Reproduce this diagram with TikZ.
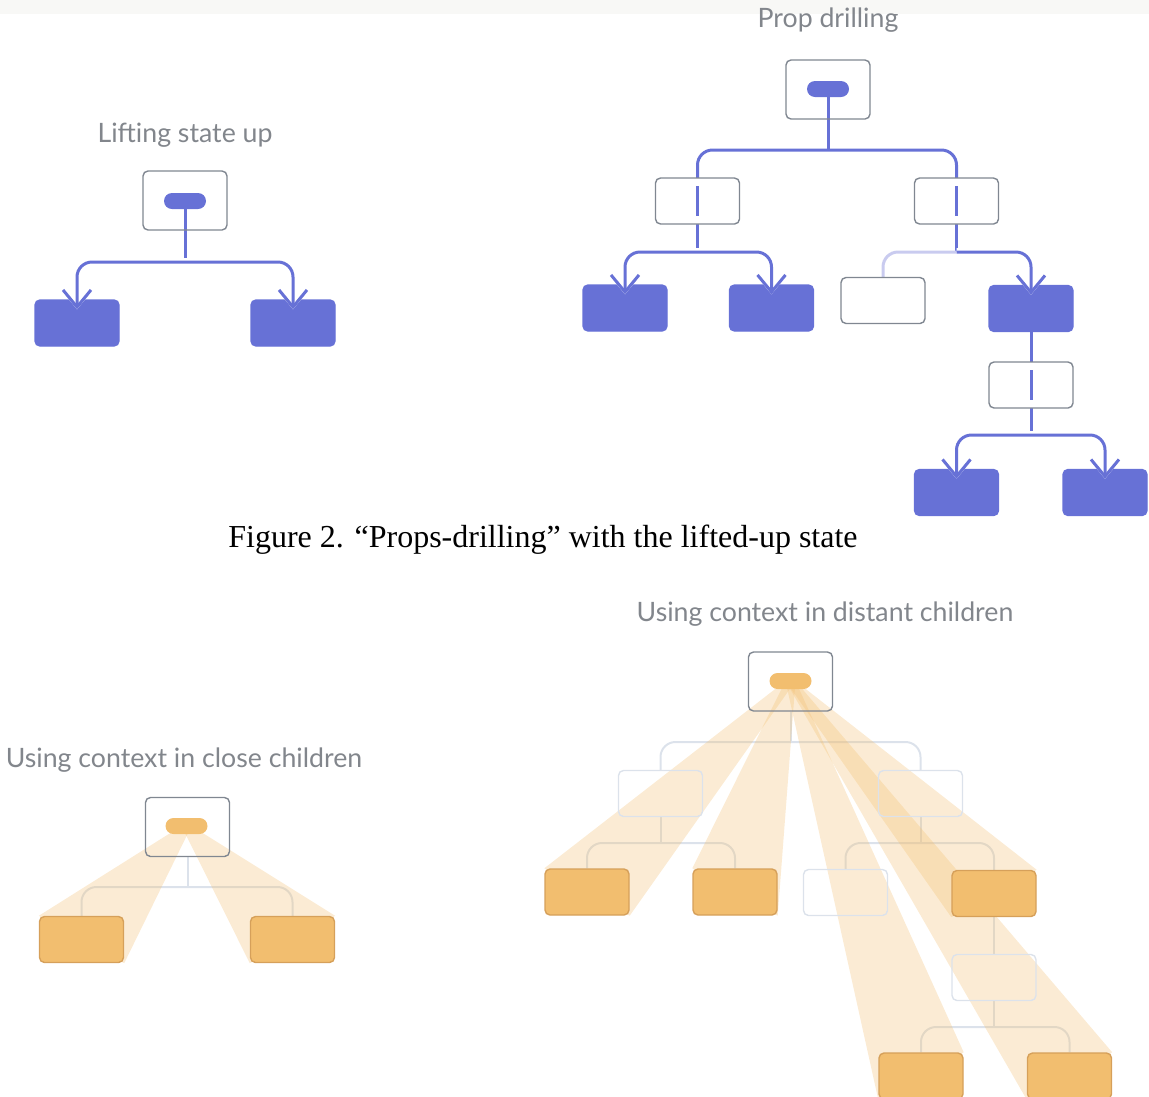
\documentclass[tikz,border=0pt]{standalone}
\usepackage{fontspec}
\setmainfont{Liberation Serif}
\newfontfamily\headfont{Lato}
\usetikzlibrary{arrows.meta,calc}

\definecolor{propblue}{RGB}{103,113,214}
\definecolor{boxgray}{RGB}{128,135,145}
\definecolor{lavender}{RGB}{201,203,239}
\definecolor{faint}{RGB}{220,226,235}
\definecolor{ctxfill}{RGB}{242,190,111}
\definecolor{ctxedge}{RGB}{214,160,90}
\definecolor{headgray}{RGB}{130,134,140}
\definecolor{band}{RGB}{248,248,246}

\pgfdeclarelayer{under}
\pgfdeclarelayer{glow}
\pgfsetlayers{under,glow,main}

\begin{document}
\begin{tikzpicture}[x=1pt,y=-1pt,
  box/.style={draw=boxgray,line width=1.4pt,rounded corners=5pt,fill=white,minimum width=84pt,minimum height=46pt,inner sep=0pt},
  rootbox/.style={box,fill=none,minimum height=59pt},
  leaf/.style={box,draw=propblue,fill=propblue},
  ghost/.style={box,draw=faint,fill=none},
  ctxleaf/.style={box,draw=ctxedge,fill=ctxfill},
  pill/.style={fill=propblue,rounded corners=8pt,minimum width=42pt,minimum height=16pt,inner sep=0pt},
  ctxpill/.style={pill,fill=ctxfill},
  wire/.style={draw=propblue,line width=3pt,rounded corners=15pt,>={Straight Barb[length=17pt,width=28pt,line width=3pt]}},
  halo/.style={draw=white,line width=8pt,>={Straight Barb[length=17pt,width=28pt,line width=8pt]}},
  faintwire/.style={draw=faint,line width=2pt,rounded corners=15pt},
  fadedwire/.style={draw=lavender,line width=3pt,rounded corners=15pt},
  beam/.style={fill=ctxfill,fill opacity=0.3},
  heading/.style={anchor=base,text=headgray,font=\headfont\fontsize{26.7}{30}\selectfont},
  caption/.style={anchor=base,font=\fontsize{32}{36}\selectfont}]
\useasboundingbox (0,0) rectangle (1149,1096);
\fill[band] (0,0) rectangle (1149,14);

% lifting state up
\node[heading] (lsutitle) at (185,142) {Lifting state up};
\node[rootbox] (lsu) at (185,200.5) {};
\node[pill] (lsupill) at (185,201) {};
\node[leaf] (lsua) at (77,323) {};
\node[leaf] (lsub) at (293,323) {};
\coordinate (lsuj) at (185,262);
\begin{pgfonlayer}{under}
\draw[wire] (lsupill) -- (lsuj);
\end{pgfonlayer}
\draw[wire,halo,<->] ($(lsua.north)+(0,10)$) -- (lsua |- lsuj) -- (lsub |- lsuj) -- ($(lsub.north)+(0,10)$);
\draw[wire,<->] ($(lsua.north)+(0,10)$) -- (lsua |- lsuj) -- (lsub |- lsuj) -- ($(lsub.north)+(0,10)$);

% prop drilling
\node[heading] (pdtitle) at (828,27) {Prop drilling};
\node[rootbox] (pd) at (828,89.5) {};
\node[pill] (pdpill) at (828,89) {};
\coordinate (pdj) at (828,150);
\node[box] (pdl) at (697.5,201) {};
\node[box] (pdr) at (956.5,201) {};
\coordinate (pdlj) at (697.5,252);
\coordinate (pdrj) at (956.5,252);
\node[leaf] (pdla) at (625,308) {};
\node[leaf] (pdlb) at (771.5,308) {};
\node[box] (pdra) at (883,300.5) {};
\node[leaf] (pdrb) at (1031,308.5) {};
\node[box] (pdrm) at (1031,385) {};
\coordinate (pdrbj) at (1031,435);
\node[leaf] (pdrba) at (956.5,492.5) {};
\node[leaf] (pdrbb) at (1105,492.5) {};
\begin{pgfonlayer}{under}
\draw[wire] (pdpill) -- (pdj);
\draw[wire] (pdl.center) -- (pdl |- pdj) -- (pdr |- pdj) -- (pdr.center);
\draw[wire] (pdl.center) -- (pdlj);
\draw[wire] (pdr.center) -- (pdrj);
\draw[fadedwire] (pdrj) -- (pdra |- pdrj) -- (pdra.north);
\draw[wire] (pdrb.center) -- (pdrbj);
\end{pgfonlayer}
\draw[wire] ($(pdl.center)+(0,-15)$) -- ($(pdl.center)+(0,15)$);
\draw[wire] ($(pdr.center)+(0,-15)$) -- ($(pdr.center)+(0,15)$);
\draw[wire] ($(pdrm.center)+(0,-15)$) -- ($(pdrm.center)+(0,15)$);
\draw[wire,halo,<->] ($(pdla.north)+(0,10)$) -- (pdla |- pdlj) -- (pdlb |- pdlj) -- ($(pdlb.north)+(0,10)$);
\draw[wire,<->] ($(pdla.north)+(0,10)$) -- (pdla |- pdlj) -- (pdlb |- pdlj) -- ($(pdlb.north)+(0,10)$);
\draw[wire,halo,->] (pdrj) -- (pdrb |- pdrj) -- ($(pdrb.north)+(0,10)$);
\draw[wire,->] (pdrj) -- (pdrb |- pdrj) -- ($(pdrb.north)+(0,10)$);
\draw[wire,halo,<->] ($(pdrba.north)+(0,10)$) -- (pdrba |- pdrbj) -- (pdrbb |- pdrbj) -- ($(pdrbb.north)+(0,10)$);
\draw[wire,<->] ($(pdrba.north)+(0,10)$) -- (pdrba |- pdrbj) -- (pdrbb |- pdrbj) -- ($(pdrbb.north)+(0,10)$);

\node[caption] (fig) at (543,547) {Figure 2. “Props-drilling” with the lifted-up state};

% context, close children
\node[heading] (cctitle) at (184,767) {Using context in close children};
\node[rootbox] (cc) at (187.5,827) {};
\coordinate (ccj) at (187.5,887);
\node[ctxleaf] (cca) at (81.5,939.5) {};
\node[ctxleaf] (ccb) at (292.5,939.5) {};
\begin{pgfonlayer}{under}
\draw[faintwire] (cc.south) -- (ccj);
\draw[faintwire] (cca.north) -- (cca |- ccj) -- (ccb |- ccj) -- (ccb.north);
\end{pgfonlayer}
\node[ctxpill] (ccpill) at (186.5,826) {};
\begin{pgfonlayer}{glow}
\fill[beam] ($(ccpill.center)+(-5,0)$) -- (cca.north west) -- (cca.south east) -- ($(ccpill.center)+(5,0)$) -- cycle;
\fill[beam] ($(ccpill.center)+(-5,0)$) -- (ccb.south west) -- (ccb.north east) -- ($(ccpill.center)+(5,0)$) -- cycle;
\end{pgfonlayer}

% context, distant children
\node[heading] (dctitle) at (825,621) {Using context in distant children};
\node[rootbox] (dc) at (790.5,681.5) {};
\coordinate (dcj) at (790.5,742);
\node[ghost] (dcl) at (660.5,793.5) {};
\node[ghost] (dcr) at (920.5,793.5) {};
\coordinate (dclj) at (660.5,843);
\coordinate (dcrj) at (920.5,843);
\node[ctxleaf] (dca) at (587,892) {};
\node[ctxleaf] (dcb) at (735,892) {};
\node[ghost] (dcw) at (845.5,892.5) {};
\node[ctxleaf] (dcc) at (994,893.5) {};
\node[ghost] (dcm) at (994,977.5) {};
\coordinate (dcmj) at (994,1027);
\node[ctxleaf] (dcd) at (921,1076) {};
\node[ctxleaf] (dce) at (1069.5,1076) {};
\begin{pgfonlayer}{under}
\draw[faintwire] (dc.south) -- (dcj);
\draw[faintwire] (dcl.north) -- (dcl |- dcj) -- (dcr |- dcj) -- (dcr.north);
\draw[faintwire] (dcl.south) -- (dclj);
\draw[faintwire] (dca.north) -- (dca |- dclj) -- (dcb |- dclj) -- (dcb.north);
\draw[faintwire] (dcr.south) -- (dcrj);
\draw[faintwire] (dcw.north) -- (dcw |- dcrj) -- (dcc |- dcrj) -- (dcc.north);
\draw[faintwire] (dcc.south) -- (dcm.north);
\draw[faintwire] (dcm.south) -- (dcmj);
\draw[faintwire] (dcd.north) -- (dcd |- dcmj) -- (dce |- dcmj) -- (dce.north);
\end{pgfonlayer}
\node[ctxpill] (dcpill) at (790.5,681) {};
\begin{pgfonlayer}{glow}
\fill[beam] ($(dcpill.center)+(-5,0)$) -- (dca.north west) -- (dca.south east) -- ($(dcpill.center)+(5,0)$) -- cycle;
\fill[beam] ($(dcpill.center)+(-5,0)$) -- (dcb.north west) -- (dcb.south east) -- ($(dcpill.center)+(5,0)$) -- cycle;
\fill[beam] ($(dcpill.center)+(-5,0)$) -- (dcd.south west) -- (dcd.north east) -- ($(dcpill.center)+(5,0)$) -- cycle;
\fill[beam] ($(dcpill.center)+(-5,0)$) -- (dce.south west) -- (dce.north east) -- ($(dcpill.center)+(5,0)$) -- cycle;
\fill[beam] ($(dcpill.center)+(-5,0)$) -- (dcc.south west) -- (dcc.north east) -- ($(dcpill.center)+(5,0)$) -- cycle;
\end{pgfonlayer}
\end{tikzpicture}
\end{document}
